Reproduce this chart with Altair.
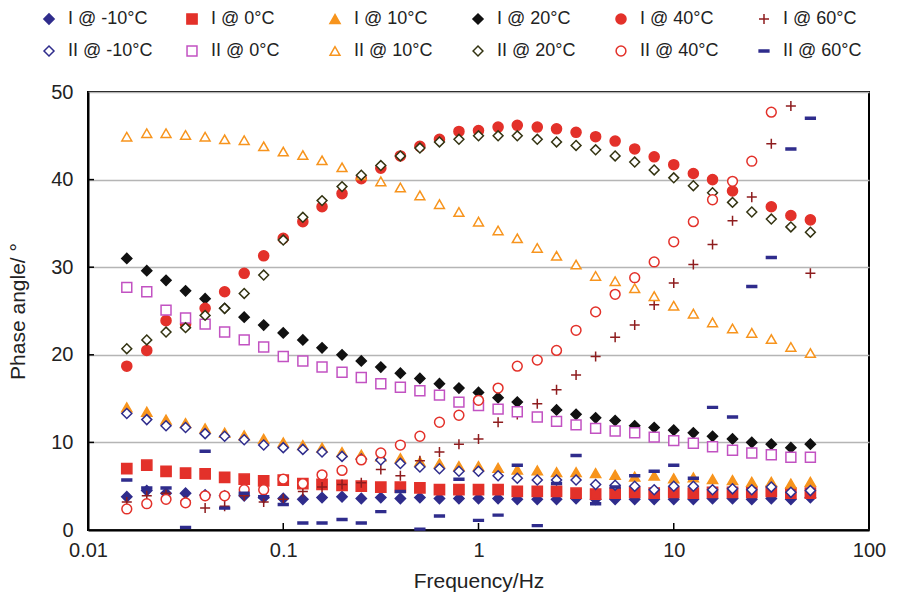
import altair as alt
import pandas as pd

freq = [0.0158, 0.02, 0.0251, 0.0316, 0.0398, 0.0501, 0.0631, 0.0794, 0.1, 0.126,
        0.158, 0.2, 0.251, 0.316, 0.398, 0.501, 0.631, 0.794, 1.0, 1.26,
        1.58, 2.0, 2.51, 3.16, 3.98, 5.01, 6.31, 7.94, 10.0, 12.6,
        15.8, 20.0, 25.1, 31.6, 39.8, 50.1]

series = ["I @ -10°C", "I @ 0°C", "I @ 10°C", "I @ 20°C", "I @ 40°C", "I @ 60°C",
          "II @ -10°C", "II @ 0°C", "II @ 10°C", "II @ 20°C", "II @ 40°C", "II @ 60°C"]

i_m10 = [3.8, 4.5, 4.2, 4.2, 4.0, 3.9, 3.9, 3.7, 3.6, 3.5, 3.7, 3.8, 3.6, 3.7, 3.6, 3.7, 3.6, 3.6,
         3.6, 3.6, 3.5, 3.5, 3.5, 3.6, 3.5, 3.5, 3.5, 3.5, 3.5, 3.5, 3.6, 3.6, 3.5, 3.6, 3.5, 3.7]
i_0 = [7.0, 7.4, 6.7, 6.5, 6.4, 6.0, 5.8, 5.6, 5.7, 5.3, 5.2, 5.1, 5.0, 4.9, 4.9, 4.8, 4.6, 4.6,
       4.6, 4.6, 4.4, 4.4, 4.4, 4.2, 4.1, 4.2, 4.3, 4.2, 4.3, 4.2, 4.3, 4.3, 4.3, 4.4, 4.2, 4.2]
i_10 = [14.0, 13.5, 12.6, 12.2, 11.6, 11.1, 10.8, 10.4, 10.0, 9.7, 9.4, 8.9, 8.6, 8.4, 8.2, 7.8, 7.6, 7.3,
        7.3, 7.1, 6.9, 6.8, 6.6, 6.6, 6.5, 6.3, 6.1, 6.2, 5.9, 6.0, 5.8, 5.7, 5.5, 5.5, 5.3, 5.5]
i_20 = [31.0, 29.6, 28.5, 27.3, 26.4, 25.3, 24.3, 23.4, 22.5, 21.7, 20.8, 20.0, 19.3, 18.6, 17.9, 17.3, 16.7, 16.2,
        15.7, 15.1, 14.6, None, 13.7, 13.2, 12.8, 12.5, 11.9, 11.7, 11.4, 11.1, 10.7, 10.4, 10.0, 9.8, 9.4, 9.8]
i_40 = [18.7, 20.5, 23.9, 23.5, 25.3, 27.2, 29.3, 31.3, 33.3, 35.2, 36.9, 38.4, 40.1, 41.3, 42.7, 43.8, 44.6, 45.5,
        45.6, 46.0, 46.2, 46.0, 45.8, 45.4, 44.9, 44.4, 43.5, 42.6, 41.7, 40.7, 40.0, 38.7, None, 36.9, 35.9, 35.4]
i_60 = [3.2, 3.9, 4.2, 3.3, 2.5, 2.7, 3.9, 3.2, 3.5, 4.4, 4.9, 5.2, 5.4, 6.9, 6.2, 7.9, 8.9, 9.8,
        10.4, 12.3, 13.2, 14.4, 16.0, 17.7, 19.8, 22.0, 23.4, 25.7, 28.2, 30.3, 32.6, 35.3, 38.0, 44.1, 48.4, 29.3]
ii_m10 = [13.3, 12.6, 11.9, 11.7, 11.0, 10.7, 10.3, 9.7, 9.4, 9.2, 8.9, 8.4, 8.1, 8.0, 7.6, 7.2, 7.0, 6.7,
          6.7, 6.2, 5.9, 5.7, 5.7, 5.7, 5.2, 5.1, 5.0, 4.6, 5.0, 5.0, 4.6, 4.7, 4.6, 4.9, 4.3, 4.5]
ii_0 = [27.7, 27.2, 25.1, 24.2, 23.5, 22.6, 21.7, 20.9, 19.8, 19.3, 18.6, 18.0, 17.4, 16.7, 16.3, 15.9, 15.4, 14.6,
        14.2, 13.8, 13.5, 12.9, 12.4, 12.0, 11.6, 11.3, 11.1, 10.6, 10.2, 9.9, 9.5, 9.1, 8.8, 8.6, 8.3, 8.3]
ii_10 = [44.9, 45.3, 45.3, 45.1, 44.9, 44.6, 44.5, 43.8, 43.2, 42.8, 42.2, 41.4, 40.5, 39.8, 39.1, 38.2, 37.2, 36.3,
         35.2, 34.2, 33.3, 32.2, 31.3, 30.3, 29.0, 28.4, 27.6, 26.7, 25.6, 24.7, 23.7, 23.0, 22.5, 21.8, 20.9, 20.2]
ii_20 = [20.7, 21.7, 22.6, 23.1, 24.5, 25.3, 27.0, 29.1, 33.1, 35.7, 37.6, 39.2, 40.5, 41.6, 42.7, 43.6, 44.3, 44.6,
         45.0, 45.0, 45.0, 44.6, 44.3, 43.9, 43.4, 42.7, 42.0, 41.1, 40.2, 39.3, 38.5, 37.4, 36.3, 35.5, 34.6, 34.0]
ii_40 = [2.4, 3.0, 3.5, 3.1, 3.9, 3.9, 4.6, 4.6, 5.8, 5.3, 6.3, 6.8, 8.0, 8.8, 9.7, 10.7, 12.3, 13.1,
         14.8, 16.2, 18.7, 19.4, 20.5, 22.8, 24.9, 26.9, 28.8, 30.6, 32.9, 35.2, 37.7, 39.8, 42.1, 47.7, None, None]
ii_60 = [5.7, 4.8, 4.8, 0.3, 9.0, 2.5, 4.2, 3.8, 2.9, 0.8, 0.8, 1.2, 0.8, 2.1, 4.4, 0.1, 1.6, 5.8,
         1.1, 1.7, 7.4, 0.5, 5.3, 8.5, 3.0, 4.9, 6.2, 6.7, 7.4, 5.9, 14.0, 12.9, 27.8, 31.1, 43.5, 47.0]

values = [i_m10, i_0, i_10, i_20, i_40, i_60, ii_m10, ii_0, ii_10, ii_20, ii_40, ii_60]

navy = "#2f2c8c"
red = "#e3312a"
orange = "#f7941d"
black = "#111111"
darkred = "#8e1c1e"
magenta = "#c252c2"
olive = "#333311"

shapes = ["diamond", "square", "triangle-up", "diamond", "circle", "M-1,0H1M0,-1V1",
          "diamond", "square", "triangle-up", "diamond", "circle", "M-1,-0.2H1V0.2H-1Z"]
fills = [navy, red, orange, black, red, "transparent",
         "white", "white", "white", "white", "white", navy]
strokes = [navy, red, orange, black, red, darkred,
           navy, magenta, orange, olive, red, navy]
sizes = [105, 95, 140, 105, 100, 130, 100, 85, 130, 100, 85, 140]

rows = []
for name, vals in zip(series, values):
    for f, v in zip(freq, vals):
        if v is not None:
            rows.append({"series": name, "freq": f, "phase": v})
df = pd.DataFrame(rows)

FONT = "Liberation Sans"

xscale = alt.Scale(type="log", domain=[0.01, 100])
yscale = alt.Scale(domain=[0, 50])

points = alt.Chart(df).mark_point(opacity=1, strokeWidth=1.5).encode(
    x=alt.X("freq:Q", scale=xscale,
            axis=alt.Axis(title="Frequency/Hz", values=[0.01, 0.1, 1, 10, 100], format="~g",
                          grid=False, ticks=False, labelFlush=False, labelOverlap=False,
                          labelPadding=10, titlePadding=10)),
    y=alt.Y("phase:Q", scale=yscale,
            axis=alt.Axis(title="Phase angle/ °", values=[0, 10, 20, 30, 40, 50],
                          grid=True, ticks=False, labelPadding=15, titlePadding=22)),
    shape=alt.Shape("series:N", scale=alt.Scale(domain=series, range=shapes), legend=alt.Legend(title=None)),
    fill=alt.Fill("series:N", scale=alt.Scale(domain=series, range=fills), legend=alt.Legend(title=None)),
    stroke=alt.Stroke("series:N", scale=alt.Scale(domain=series, range=strokes), legend=alt.Legend(title=None)),
    size=alt.Size("series:N", scale=alt.Scale(domain=series, range=sizes), legend=alt.Legend(title=None)),
)

xt = pd.DataFrame({"freq": [0.1, 1, 10]})
xticks = alt.Chart(xt).mark_rule(color="black", strokeWidth=1.5).encode(
    x=alt.X("freq:Q", scale=xscale), y=alt.value(431), y2=alt.value(438))

yt = pd.DataFrame({"phase": [10, 20, 30, 40]})
yticks = alt.Chart(yt).mark_rule(color="black", strokeWidth=1.5).encode(
    y=alt.Y("phase:Q", scale=yscale), x=alt.value(0), x2=alt.value(6))

chart = alt.layer(points, xticks, yticks).properties(
    width=781, height=438,
    autosize=alt.AutoSizeParams(type="none"),
    padding={"left": 88, "top": 92, "right": 29, "bottom": 65},
).configure_view(
    stroke="black", strokeWidth=2
).configure_axis(
    labelFont=FONT, titleFont=FONT, labelFontSize=20, titleFontSize=21,
    labelColor="#222", titleColor="#222", titleFontWeight="normal",
    domainColor="black", domainWidth=2, gridColor="#b5b5b5", gridWidth=1.5,
).configure_legend(
    orient="none", legendX=-48, legendY=-82, direction="horizontal", columns=6,
    gridAlign="all", columnPadding=30, rowPadding=14, padding=0,
    labelFont=FONT, labelFontSize=18, labelColor="#222",
    labelOffset=10, symbolStrokeWidth=1.5, labelLimit=200,
)

chart.save("out.html", embed_options={"renderer": "svg", "actions": False})
